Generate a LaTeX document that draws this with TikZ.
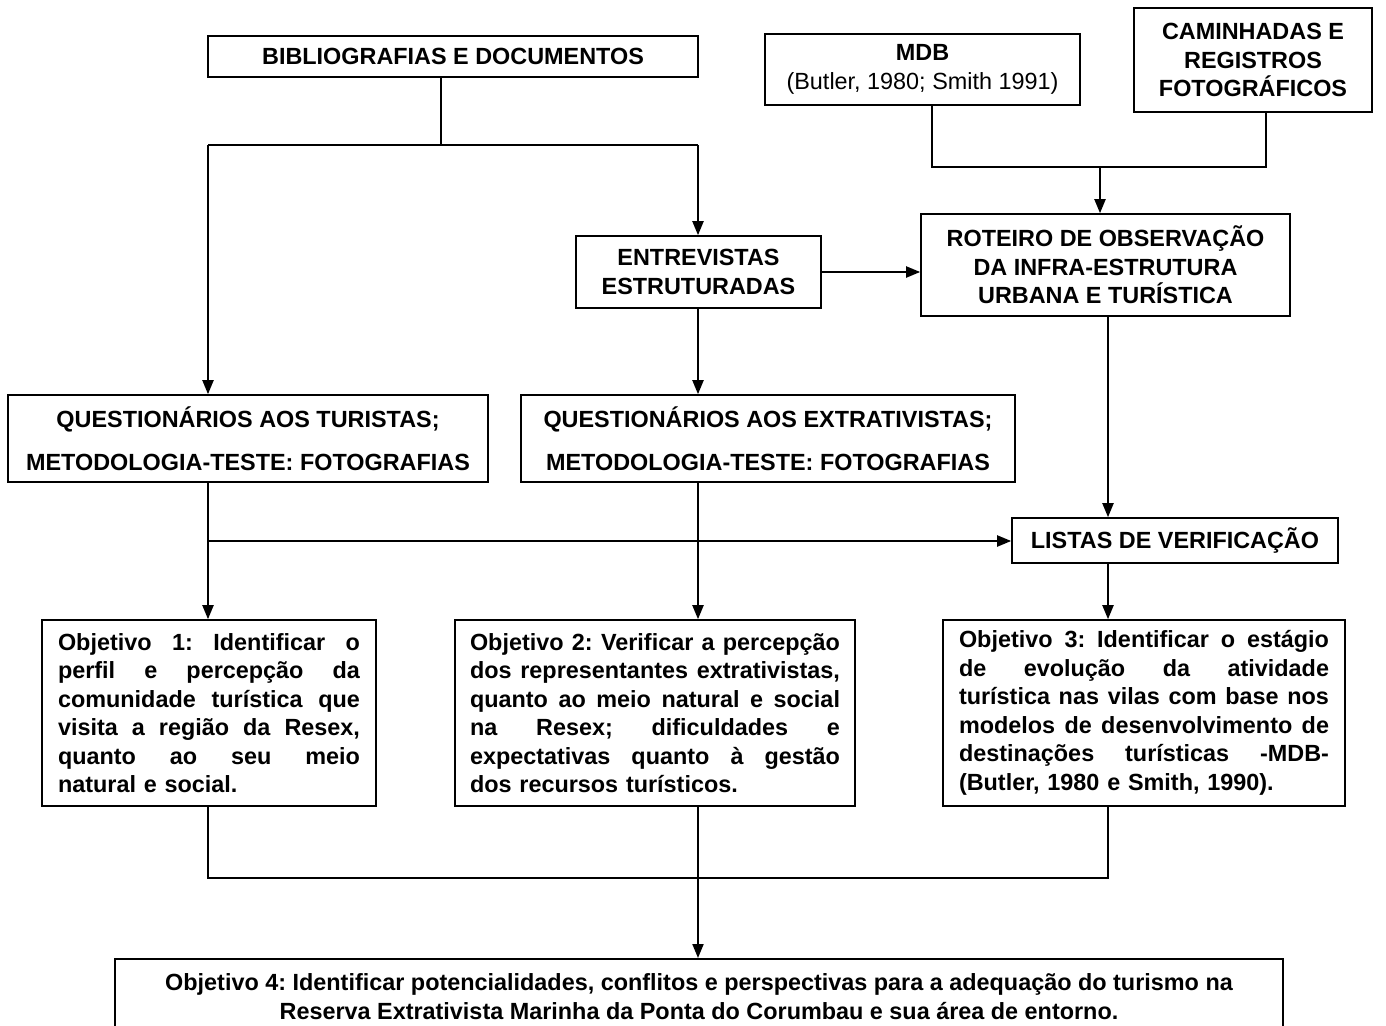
\documentclass[tikz,border=0pt]{standalone}
\usepackage{fontspec}
\setmainfont{Liberation Sans}
\usepackage{tikz}
\usetikzlibrary{arrows.meta,positioning}
\tikzstyle{caixa} = [draw, line width=1.6pt, rectangle, font=\bfseries\fontsize{23.4}{28.5}\selectfont\frenchspacing, align=center, inner sep=0pt]
\tikzstyle{objbox} = [caixa, align=left, minimum height=186pt]
\tikzstyle{arrow} = [line width=2pt,-{Triangle[width=11pt,length=14pt]}]
\tikzstyle{conn} = [line width=2pt]
\newcommand{\jl}[2][370pt]{\makebox[#1][s]{\spaceskip=.278em plus 1fil\relax #2}\\}

\begin{document}
\begin{tikzpicture}[x=1pt,y=-1pt]
\clip (0,0) rectangle (1386,1025);
\fill[white] (0,0) rectangle (1386,1025);
% Fontes de dados
\node[caixa, minimum width=490pt, minimum height=41pt] (biblio) at (453,56.5) {BIBLIOGRAFIAS E DOCUMENTOS};
\node[caixa, minimum width=315pt, minimum height=71pt] (mdb) at (922.5,69.5) {MDB\\{\mdseries (Butler, 1980; Smith 1991)}};
\node[caixa, minimum width=238pt, minimum height=104pt] (camin) at (1253,60) {CAMINHADAS E\\REGISTROS\\FOTOGRÁFICOS};
\node[caixa, minimum width=245pt, minimum height=72pt] (entrev) at (698.5,272) {ENTREVISTAS\\ESTRUTURADAS};
\node[caixa, minimum width=369pt, minimum height=102pt] (roteiro) at (1105.5,265) {ROTEIRO DE OBSERVAÇÃO\\DA INFRA-ESTRUTURA\\URBANA E TURÍSTICA};

% Instrumentos
\node[caixa, minimum width=480pt, minimum height=87pt] (qtur) at (248,438.5) {QUESTIONÁRIOS AOS TURISTAS;\\[14.5pt]METODOLOGIA-TESTE: FOTOGRAFIAS};
\node[caixa, minimum width=494pt, minimum height=87pt] (qext) at (768,438.5) {QUESTIONÁRIOS AOS EXTRATIVISTAS;\\[14.5pt]METODOLOGIA-TESTE: FOTOGRAFIAS};
\node[caixa, minimum width=326pt, minimum height=45pt] (listas) at (1175,540.5) {LISTAS DE VERIFICAÇÃO};

% Objetivos
\node[objbox, text width=302pt, inner xsep=16pt] (obj1) at (209,713) {%
\jl[302pt]{Objetivo 1: Identificar o}
\jl[302pt]{perfil e percepção da}
\jl[302pt]{comunidade turística que}
\jl[302pt]{visita a região da Resex,}
\jl[302pt]{quanto ao seu meio}
natural e social.};
\node[objbox, text width=370pt, inner xsep=15pt] (obj2) at (655,713) {%
\jl{Objetivo 2: Verificar a percepção}
\jl{dos representantes extrativistas,}
\jl{quanto ao meio natural e social}
\jl{na Resex; dificuldades e}
\jl{expectativas quanto à gestão}
dos recursos turísticos.};
\node[objbox, text width=370pt, inner xsep=16pt] (obj3) at (1144,713) {%
\jl{Objetivo 3: Identificar o estágio}
\jl{de evolução da atividade}
\jl{turística nas vilas com base nos}
\jl{modelos de desenvolvimento de}
\jl{destinações turísticas -MDB-}
(Butler, 1980 e Smith, 1990).};
\node[caixa, minimum width=1168pt, minimum height=76pt, anchor=north] (obj4) at (699,958) {Objetivo 4: Identificar potencialidades, conflitos e perspectivas para a adequação do turismo na\\Reserva Extrativista Marinha da Ponta do Corumbau e sua área de entorno.};

% Pontos de ligacao
\coordinate (b0) at (441,145);
\coordinate (b1) at (208,145);
\coordinate (b2) at (698,145);
\coordinate (m1) at (932,167);
\coordinate (m2) at (1266,167);
\coordinate (m3) at (1100,167);
\coordinate (c3) at (1108,878);
\coordinate (h1) at (208,541);
\coordinate (j1) at (208,878);
\coordinate (j2) at (698,878);

% Ligacoes
\draw[conn] (biblio.south -| b0) -- (b0);
\draw[conn] (b1) -- (b2);
\draw[arrow] (b1) -- (b1 |- qtur.north);
\draw[arrow] (b2) -- (b2 |- entrev.north);
\draw[conn] (mdb.south -| m1) -- (m1) -- (m2) -- (camin.south -| m2);
\draw[arrow] (m3) -- (m3 |- roteiro.north);
\draw[arrow] (entrev.east) -- (entrev.east -| roteiro.west);
\draw[arrow] (entrev.south -| b2) -- (b2 |- qext.north);
\draw[arrow] (roteiro.south -| c3) -- (c3 |- listas.north);
\draw[arrow] (qtur.south -| b1) -- (b1 |- obj1.north);
\draw[arrow] (h1) -- (h1 -| listas.west);
\draw[arrow] (qext.south -| b2) -- (b2 |- obj2.north);
\draw[arrow] (listas.south -| c3) -- (c3 |- obj3.north);
\draw[conn] (obj1.south -| j1) -- (j1) -- (c3) -- (obj3.south -| c3);
\draw[arrow] (obj2.south -| j2) -- (j2 |- obj4.north);
\end{tikzpicture}
\end{document}
